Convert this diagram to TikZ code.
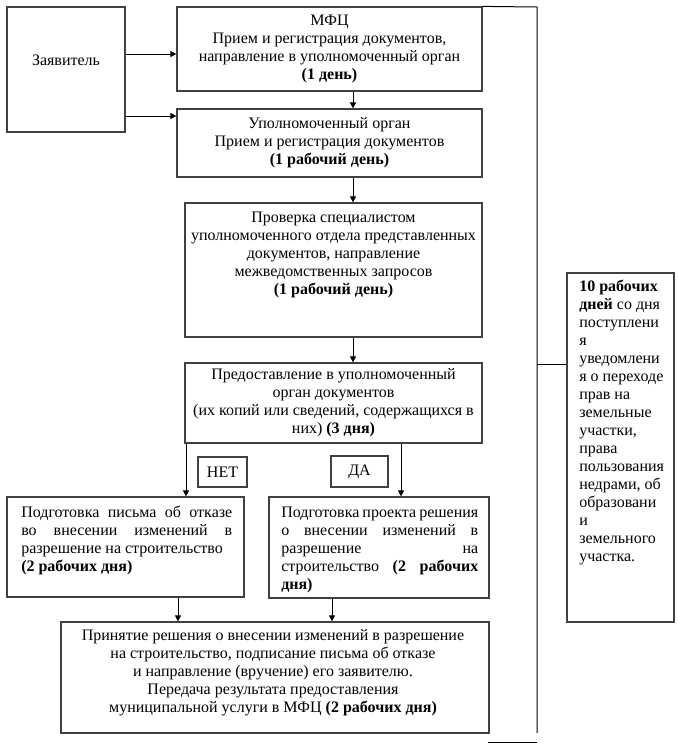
\documentclass[tikz,border=0pt]{standalone}
\usepackage{fontspec}
\setmainfont{Liberation Serif}
\usetikzlibrary{arrows.meta}
\newcommand{\fsz}{\fontsize{12pt}{13.5pt}\selectfont}
\newcommand{\jl}[2]{\makebox[#1][s]{#2}}
\begin{document}
\begin{tikzpicture}[x=0.75pt,y=-0.75pt,
  box/.style={draw=black!75,line width=0.9pt,rectangle,inner sep=0pt,font=\fsz,align=center},
  sz/.style 2 args={minimum width=#1*0.75pt,minimum height=#2*0.75pt},
  txt/.style={inner sep=0pt,font=\fsz,align=center},
  ltxt/.style={inner sep=0pt,font=\fsz,align=left},
  arr/.style={-{Triangle[length=4.5pt,width=4.5pt]},line width=0.75pt},
  ln/.style={line width=0.75pt}]
\useasboundingbox[fill=white] (0,0) rectangle (678,747);

% boxes
\node[box,sz={118}{125}] (app) at (66,69.5) {};
\node[txt] (appt) at (66,60) {Заявитель};

\node[box,sz={305}{84}] (mfc) at (329.5,49) {МФЦ\\Прием и регистрация документов,\\направление в уполномоченный орган\\\textbf{(1 день)}};

\node[box,sz={305}{68}] (upo) at (329.5,143) {Уполномоченный орган\\Прием и регистрация документов\\\textbf{(1 рабочий день)}};

\node[box,sz={297}{134}] (chk) at (333.5,270) {};
\node[txt,anchor=north] (chkt) at (333.5,211.5) {Проверка специалистом\\уполномоченного отдела представленных\\документов, направление\\межведомственных запросов\\\textbf{(1 рабочий день)}};

\node[box,sz={297}{80}] (prov) at (333.5,403) {Предоставление в уполномоченный\\орган документов\\(их копий или сведений, содержащихся в\\них) \textbf{(3 дня)}};

\node[box,sz={49}{30}] (net) at (222.5,472) {НЕТ};
\node[box,sz={57}{31}] (da) at (359.5,471.5) {ДА};

\node[box,sz={237}{100}] (otk) at (125.5,547) {};
\node[ltxt,anchor=north west] (otkt) at (21,505.5) {\jl{158.25pt}{Подготовка письма об отказе}\\\jl{158.25pt}{во внесении изменений в}\\разрешение на строительство\\\textbf{(2 рабочих дня)}};

\node[box,sz={220}{101}] (prj) at (379,547.5) {};
\node[ltxt,anchor=north west] (prjt) at (281,506.5) {\jl{147.75pt}{Подготовка проекта решения}\\\jl{147.75pt}{о внесении изменений в}\\\jl{147.75pt}{разрешение на}\\\jl{147.75pt}{строительство \textbf{(2 рабочих}}\\\textbf{дня)}};

\node[box,sz={428}{111}] (fin) at (275,677.5) {};
\node[txt,anchor=north] (fint) at (273,629.5) {Принятие решения о внесении изменений в разрешение\\на строительство, подписание письма об отказе\\и направление (вручение) его заявителю.\\Передача результата предоставления\\муниципальной услуги в МФЦ \textbf{(2 рабочих дня)}};

\node[box,sz={107}{349}] (ten) at (620.5,447.5) {};
\node[ltxt,anchor=north west] (tent) at (579,279.5) {\textbf{10 рабочих}\\\textbf{дней} со дня\\поступлени\\я\\уведомлени\\я о переходе\\прав на\\земельные\\участки,\\права\\пользования\\недрами, об\\образовани\\и\\земельного\\участка.};

% helper coordinates
\coordinate (r1) at (0,54);
\coordinate (r2) at (0,116);
\coordinate (c353) at (353,0);
\coordinate (c186) at (186,0);
\coordinate (c401) at (401,0);
\coordinate (c178) at (178,0);
\coordinate (c332) at (332,0);
\coordinate (lt) at (537,7);
\coordinate (lb) at (537,733);
\coordinate (lm) at (537,364);
\coordinate (sx1) at (488,742);
\coordinate (sx2) at (537,742);

% connectors
\draw[arr] (app.east |- r1) -- (mfc.west |- r1);
\draw[arr] (app.east |- r2) -- (upo.west |- r2);
\draw[arr] (mfc.south -| c353) -- (upo.north -| c353);
\draw[arr] (upo.south -| c353) -- (chk.north -| c353);
\draw[arr] (chk.south -| c353) -- (prov.north -| c353);
\draw[arr] (prov.south -| c186) -- (otk.north -| c186);
\draw[arr] (prov.south -| c401) -- (prj.north -| c401);
\draw[arr] (otk.south -| c178) -- (fin.north -| c178);
\draw[arr] (prj.south -| c332) -- (fin.north -| c332);
\draw[ln] (mfc.north east) -- (lt) -- (lb);
\draw[ln] (lm) -- (lm -| ten.west);
\draw[ln] (sx1) -- (sx2);
\end{tikzpicture}
\end{document}
